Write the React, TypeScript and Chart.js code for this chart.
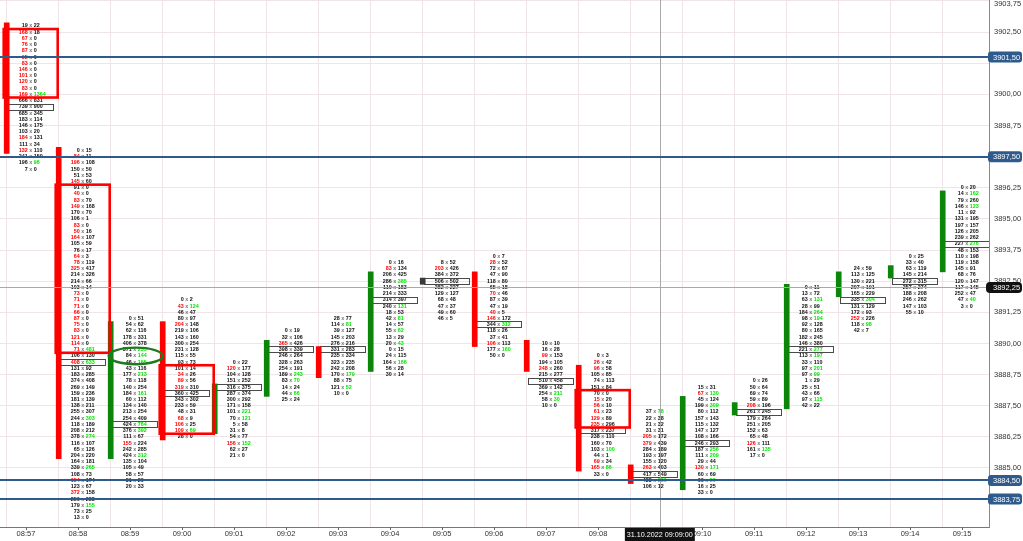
import React, { useEffect, useRef } from "react";
import { Chart, registerables } from "chart.js";

Chart.register(...registerables);

const FONT = "'Liberation Sans', Arial, sans-serif";
const TICK = 0.25;

// ---- bars (1 minute) ----
const times = ["08:57", "08:58", "08:59", "09:00", "09:01", "09:02", "09:03", "09:04", "09:05", "09:06", "09:07", "09:08", "09:09", "09:10", "09:11", "09:12", "09:13", "09:14", "09:15"];
const highs = [3902.75, 3897.75, 3891.0, 3891.75, 3889.25, 3890.5, 3891.0, 3893.25, 3893.25, 3893.5, 3890.0, 3889.5, 3887.25, 3888.25, 3888.5, 3892.25, 3893.0, 3893.5, 3896.25];
const opens = [3902.75, 3897.75, 3885.5, 3890.75, 3886.5, 3888.0, 3889.75, 3889.0, 3892.5, 3892.75, 3890.0, 3889.0, 3885.0, 3884.25, 3887.25, 3887.5, 3892.0, 3892.75, 3893.0];
const closes = [3897.75, 3885.5, 3890.75, 3886.25, 3888.25, 3890.0, 3888.75, 3892.75, 3892.5, 3890.0, 3889.0, 3885.0, 3884.5, 3887.75, 3887.5, 3892.25, 3892.75, 3893.0, 3896.0];
const pocRows = [13, 34, 17, 15, 4, 3, 5, 6, 3, 11, 6, 12, 10, 9, 5, 10, 5, 4, 9];

// ---- footprint rows, from the high downwards (bid x ask) ----
const bid0857 = [19, 168, 67, 76, 87, 95, 83, 146, 101, 120, 83, 169, 666, 739, 685, 183, 146, 103, 184, 111, 132, 241, 196, 7];
const ask0857 = [22, 18, 0, 0, 0, 0, 0, 0, 0, 0, 0, 1364, 831, 900, 345, 114, 175, 20, 131, 34, 110, 150, 96, 0];
const red0857 = [1, 2, 3, 4, 5, 6, 7, 8, 9, 10, 11, 18, 20];
const grn0857 = [11, 22];

const bid0858 = [0, 84, 196, 150, 51, 145, 91, 40, 83, 149, 170, 106, 83, 50, 164, 105, 76, 64, 78, 325, 214, 214, 103, 73, 71, 71, 66, 87, 75, 83, 121, 114, 71, 106, 408, 131, 183, 374, 269, 159, 181, 138, 255, 244, 118, 208, 378, 116, 65, 204, 164, 339, 108, 154, 123, 372, 256, 179, 73, 13];
const ask0858 = [15, 11, 108, 50, 53, 60, 0, 0, 70, 168, 70, 1, 0, 16, 107, 59, 17, 3, 119, 417, 326, 66, 14, 0, 0, 0, 0, 0, 0, 0, 0, 0, 481, 130, 633, 92, 285, 408, 149, 236, 139, 211, 307, 303, 189, 212, 274, 107, 126, 220, 181, 265, 73, 174, 67, 158, 288, 155, 25, 0];
const red0858 = [1, 2, 5, 7, 8, 9, 12, 13, 14, 17, 18, 19, 23, 24, 25, 26, 27, 28, 29, 30, 31, 32, 34, 53, 55];
const grn0858 = [32, 34, 43, 46, 51, 57];

const bid0859 = [0, 54, 62, 178, 406, 371, 84, 46, 43, 177, 78, 140, 184, 60, 134, 213, 254, 424, 376, 111, 155, 242, 424, 135, 105, 58, 31, 20];
const ask0859 = [51, 62, 116, 331, 378, 235, 144, 165, 116, 213, 118, 254, 161, 112, 140, 254, 409, 764, 392, 67, 224, 285, 312, 104, 49, 57, 20, 33];
const red0859 = [20];
const grn0859 = [5, 6, 7, 9, 12, 17, 18, 22];

const bid0900 = [0, 43, 46, 80, 204, 219, 143, 300, 231, 115, 93, 101, 34, 89, 319, 360, 343, 233, 48, 68, 106, 109, 28];
const ask0900 = [2, 124, 47, 97, 148, 106, 160, 254, 128, 55, 73, 14, 26, 56, 310, 425, 302, 59, 31, 9, 25, 69, 0];
const red0900 = [1, 4, 12, 13, 14, 19, 20, 21];
const grn0900 = [1, 21];

const bid0901 = [0, 120, 104, 151, 316, 287, 300, 171, 101, 70, 5, 31, 54, 156, 62, 21];
const ask0901 = [22, 177, 128, 252, 375, 374, 292, 158, 221, 121, 58, 8, 77, 152, 27, 0];
const red0901 = [1, 13];
const grn0901 = [8, 9, 13];

const bid0902 = [0, 32, 365, 398, 246, 328, 254, 189, 83, 14, 44, 25];
const ask0902 = [19, 106, 426, 339, 264, 263, 191, 243, 70, 24, 66, 24];
const red0902 = [2];
const grn0902 = [7, 8, 10];

const bid0903 = [28, 114, 39, 145, 276, 331, 235, 323, 242, 170, 88, 121, 10];
const ask0903 = [77, 81, 127, 203, 216, 283, 334, 235, 208, 179, 75, 52, 0];
const red0903: number[] = [];
const grn0903 = [1, 9, 11];

const bid0904 = [0, 83, 206, 286, 110, 214, 314, 240, 18, 42, 14, 55, 13, 20, 0, 24, 164, 56, 30];
const ask0904 = [16, 134, 425, 385, 183, 333, 397, 131, 53, 81, 57, 62, 29, 43, 15, 115, 166, 28, 14];
const red0904 = [1];
const grn0904 = [3, 7, 9, 11, 13, 16];

const bid0905 = [8, 203, 384, 506, 282, 129, 68, 47, 49, 46];
const ask0905 = [52, 426, 372, 502, 227, 127, 48, 37, 60, 5];
const red0905 = [1];
const grn0905: number[] = [];

const bid0906 = [0, 28, 72, 47, 118, 65, 70, 87, 47, 40, 146, 344, 118, 37, 106, 177, 50];
const ask0906 = [7, 52, 67, 90, 80, 18, 46, 39, 19, 5, 172, 312, 26, 41, 113, 160, 0];
const red0906 = [1, 6, 9, 10, 14];
const grn0906 = [11, 15];

const bid0907 = [10, 16, 99, 194, 248, 215, 510, 369, 254, 58, 10];
const ask0907 = [10, 28, 153, 105, 260, 277, 458, 142, 211, 30, 0];
const red0907 = [2, 4];
const grn0907 = [8, 9];

const bid0908 = [0, 26, 96, 105, 74, 151, 70, 15, 56, 61, 129, 235, 317, 238, 160, 103, 44, 69, 165, 33];
const ask0908 = [3, 42, 58, 85, 113, 84, 0, 20, 10, 23, 89, 296, 237, 110, 70, 100, 1, 34, 86, 0];
const red0908 = [1, 2, 7, 8, 9, 10, 11, 17, 18];
const grn0908 = [15, 18];

const bid0909 = [37, 22, 21, 31, 205, 379, 284, 193, 155, 263, 417, 433, 106];
const ask0909 = [78, 38, 32, 31, 172, 439, 189, 197, 120, 403, 549, 280, 12];
const red0909 = [4, 5, 9];
const grn0909 = [0, 11];

const bid0910 = [15, 67, 45, 199, 80, 157, 115, 147, 108, 246, 187, 111, 29, 130, 60, 66, 16, 33];
const ask0910 = [31, 130, 124, 309, 112, 143, 132, 127, 166, 293, 256, 209, 44, 171, 69, 50, 25, 0];
const red0910 = [1, 13];
const grn0910 = [1, 3, 10, 11, 13, 15];

const bid0911 = [0, 50, 69, 59, 208, 261, 179, 251, 152, 65, 126, 161, 17];
const ask0911 = [26, 64, 74, 89, 196, 245, 264, 205, 63, 48, 111, 135, 0];
const red0911 = [4, 10];
const grn0911 = [11];

const bid0912 = [0, 13, 63, 28, 184, 98, 92, 80, 182, 146, 221, 113, 33, 97, 97, 1, 25, 43, 97, 42];
const ask0912 = [11, 72, 131, 99, 264, 194, 128, 165, 245, 380, 277, 197, 110, 201, 99, 29, 51, 66, 115, 22];
const red0912: number[] = [];
const grn0912 = [2, 4, 5, 10, 11, 13, 14, 18];

const bid0913 = [24, 113, 130, 207, 165, 335, 131, 172, 252, 118, 42];
const ask0913 = [59, 125, 221, 191, 229, 304, 129, 93, 226, 98, 7];
const red0913 = [8];
const grn0913 = [5, 9];

const bid0914 = [0, 33, 63, 145, 272, 257, 188, 246, 147, 55];
const ask0914 = [25, 40, 119, 214, 315, 274, 208, 262, 103, 10];
const red0914: number[] = [];
const grn0914: number[] = [];

const bid0915 = [0, 14, 79, 146, 11, 131, 197, 126, 239, 227, 48, 110, 119, 145, 68, 120, 117, 252, 47, 3];
const ask0915 = [20, 162, 260, 123, 92, 195, 157, 205, 262, 276, 153, 198, 158, 91, 76, 147, 145, 47, 40, 0];
const red0915: number[] = [];
const grn0915 = [1, 3, 9, 18];

const bidRows = [bid0857, bid0858, bid0859, bid0900, bid0901, bid0902, bid0903, bid0904, bid0905, bid0906, bid0907, bid0908, bid0909, bid0910, bid0911, bid0912, bid0913, bid0914, bid0915];
const askRows = [ask0857, ask0858, ask0859, ask0900, ask0901, ask0902, ask0903, ask0904, ask0905, ask0906, ask0907, ask0908, ask0909, ask0910, ask0911, ask0912, ask0913, ask0914, ask0915];
const redRows = [red0857, red0858, red0859, red0900, red0901, red0902, red0903, red0904, red0905, red0906, red0907, red0908, red0909, red0910, red0911, red0912, red0913, red0914, red0915];
const grnRows = [grn0857, grn0858, grn0859, grn0900, grn0901, grn0902, grn0903, grn0904, grn0905, grn0906, grn0907, grn0908, grn0909, grn0910, grn0911, grn0912, grn0913, grn0914, grn0915];

// ---- stacked imbalance zones ----
const zoneBars = [0, 1, 3, 11];
const zoneTops = [3902.5, 3896.25, 3889.0, 3888.0];
const zoneBottoms = [3900.0, 3889.75, 3886.5, 3886.75];

// ---- marked cluster (ellipse) ----
const markBar = 2;
const markPrice = 3889.5;

// ---- horizontal levels & crosshair ----
const levelPrices = [3901.5, 3897.5, 3884.5, 3883.75];
const crossPrice = 3892.25;
const crossTime = 12.56;
const crossLabel = "31.10.2022 09:09:00";

// ---- axes ----
const X_MIN = -0.129;
const X_MAX = 18.89;
const Y_MIN = 3882.63;
const Y_MAX = 3903.79;
const Y_TOP_TICK = 3903.75;

const RED = "#ff0000";
const GREEN_TXT = "#00e600";
const GREEN_BAR = "#0b860b";
const TXT = "#111111";
const XTXT = "#7a7a7a";
const BLUE = "#2f5a8c";
const GRID = "#efe5e9";
const TEXT_DX = 24;
const FP_FONT = `bold 5.4px ${FONT}`;
const AXIS_FONT = `7.5px ${FONT}`;

const fmt = (v: number) => v.toFixed(2).replace(".", ",");

function roundRect(ctx: CanvasRenderingContext2D, x: number, y: number, w: number, h: number, r: number) {
  ctx.beginPath();
  ctx.moveTo(x + r, y);
  ctx.lineTo(x + w - r, y);
  ctx.quadraticCurveTo(x + w, y, x + w, y + r);
  ctx.lineTo(x + w, y + h - r);
  ctx.quadraticCurveTo(x + w, y + h, x + w - r, y + h);
  ctx.lineTo(x + r, y + h);
  ctx.quadraticCurveTo(x, y + h, x, y + h - r);
  ctx.lineTo(x, y + r);
  ctx.quadraticCurveTo(x, y, x + r, y);
  ctx.closePath();
}

const noPad = (s: any) => {
  s.paddingTop = 0;
  s.paddingBottom = 0;
  s.paddingLeft = 0;
  s.paddingRight = 0;
};

const footprintPlugin = {
  id: "footprint",
  beforeDatasetsDraw(chart: any) {
    const { ctx, chartArea: a } = chart;
    const xs = chart.scales.x;
    const ys = chart.scales.y;
    ctx.save();
    ctx.beginPath();
    ctx.rect(a.left, a.top, a.right - a.left, a.bottom - a.top);
    ctx.clip();
    ctx.font = FP_FONT;
    ctx.textBaseline = "middle";
    const half = ctx.measureText(" x ").width / 2;
    for (let i = 0; i < times.length; i++) {
      const cx = xs.getPixelForValue(i) + TEXT_DX;
      const bids = bidRows[i];
      const asks = askRows[i];
      for (let r = 0; r < bids.length; r++) {
        const py = ys.getPixelForValue(highs[i] - r * TICK);
        ctx.textAlign = "right";
        ctx.fillStyle = redRows[i].includes(r) ? RED : TXT;
        ctx.fillText(String(bids[r]), cx - half, py);
        ctx.textAlign = "center";
        ctx.fillStyle = XTXT;
        ctx.fillText("x", cx, py);
        ctx.textAlign = "left";
        ctx.fillStyle = grnRows[i].includes(r) ? GREEN_TXT : TXT;
        ctx.fillText(String(asks[r]), cx + half, py);
      }
      const pp = ys.getPixelForValue(highs[i] - pocRows[i] * TICK);
      ctx.strokeStyle = "#4a4a4a";
      ctx.lineWidth = 1;
      ctx.strokeRect(Math.round(cx - 22.5) + 0.5, Math.round(pp - 3.3) + 0.5, 45, 6);
    }
    ctx.restore();
  },
  afterDatasetsDraw(chart: any) {
    const { ctx, chartArea: a } = chart;
    const xs = chart.scales.x;
    const ys = chart.scales.y;
    ctx.save();
    ctx.beginPath();
    ctx.rect(a.left, a.top, a.right - a.left, a.bottom - a.top);
    ctx.clip();
    // zones
    ctx.strokeStyle = RED;
    ctx.lineWidth = 2.6;
    zoneBars.forEach((b, k) => {
      const x0 = xs.getPixelForValue(b) - 3;
      const x1 = xs.getPixelForValue(b + 1) - 1;
      const y0 = ys.getPixelForValue(zoneTops[k] + TICK / 2);
      const y1 = ys.getPixelForValue(zoneBottoms[k] - TICK / 2);
      ctx.strokeRect(x0, y0, x1 - x0, y1 - y0);
    });
    // ellipse
    ctx.strokeStyle = "#1f7a1f";
    ctx.lineWidth = 2.4;
    ctx.beginPath();
    ctx.ellipse(xs.getPixelForValue(markBar) + TEXT_DX + 1, ys.getPixelForValue(markPrice), 27, 8.3, 0, 0, Math.PI * 2);
    ctx.stroke();
    // crosshair
    ctx.strokeStyle = "#a9a9a9";
    ctx.lineWidth = 1;
    const cy = Math.round(ys.getPixelForValue(crossPrice)) + 0.5;
    ctx.beginPath();
    ctx.moveTo(a.left, cy);
    ctx.lineTo(a.right, cy);
    const cxp = Math.round(xs.getPixelForValue(crossTime)) + 0.5;
    ctx.moveTo(cxp, a.top);
    ctx.lineTo(cxp, a.bottom);
    ctx.stroke();
    // level lines
    ctx.strokeStyle = BLUE;
    ctx.lineWidth = 2;
    levelPrices.forEach((p) => {
      const py = Math.round(ys.getPixelForValue(p));
      ctx.beginPath();
      ctx.moveTo(a.left, py);
      ctx.lineTo(a.right, py);
      ctx.stroke();
    });
    ctx.restore();
  },
  afterDraw(chart: any) {
    const { ctx, chartArea: a } = chart;
    const xs = chart.scales.x;
    const ys = chart.scales.y;
    ctx.save();
    // x tick marks under the labels
    ctx.strokeStyle = "#666";
    ctx.lineWidth = 1;
    ctx.beginPath();
    times.forEach((_, i) => {
      const px = Math.round(xs.getPixelForValue(i) + 19.3) + 0.5;
      ctx.moveTo(px, a.bottom);
      ctx.lineTo(px, a.bottom + 3);
    });
    ctx.stroke();
    ctx.font = AXIS_FONT;
    ctx.textBaseline = "middle";
    ctx.textAlign = "left";
    // top price label, kept inside the canvas
    ctx.fillStyle = "#333";
    ctx.fillText(fmt(Y_TOP_TICK), a.right + 5, Math.max(ys.getPixelForValue(Y_TOP_TICK), 4));
    // level labels on the price axis
    levelPrices.forEach((p) => {
      const py = ys.getPixelForValue(p);
      ctx.fillStyle = BLUE;
      roundRect(ctx, a.right - 1, py - 5.5, 34, 11, 3);
      ctx.fill();
      ctx.fillStyle = "#ffffff";
      ctx.fillText(fmt(p), a.right + 4, py + 0.5);
    });
    // crosshair price label
    const cy = ys.getPixelForValue(crossPrice);
    ctx.fillStyle = "#111111";
    roundRect(ctx, a.right - 3, cy - 5.5, 36, 11, 4);
    ctx.fill();
    ctx.fillStyle = "#ffffff";
    ctx.fillText(fmt(crossPrice), a.right + 4, cy + 0.5);
    // crosshair time label
    ctx.font = `7.2px ${FONT}`;
    const tw = ctx.measureText(crossLabel).width + 4;
    const tx = xs.getPixelForValue(crossTime);
    ctx.fillStyle = "#111111";
    ctx.fillRect(tx - tw / 2, a.bottom + 1, tw, 13);
    ctx.fillStyle = "#ffffff";
    ctx.textAlign = "center";
    ctx.fillText(crossLabel, tx, a.bottom + 8);
    ctx.restore();
  },
};

export default function App() {
  const ref = useRef<HTMLCanvasElement>(null);
  useEffect(() => {
    const canvas = ref.current;
    if (!canvas) return;
    const candleData = times.map((_, i) => ({
      x: i,
      y: [Math.min(opens[i], closes[i]) - TICK / 2, Math.max(opens[i], closes[i]) + TICK / 2],
    }));
    const candleColors = times.map((_, i) => (closes[i] > opens[i] ? GREEN_BAR : closes[i] < opens[i] ? RED : "#3a3a3a"));
    const chart = new Chart(canvas, {
      type: "bar",
      data: {
        datasets: [
          {
            data: candleData as any,
            backgroundColor: candleColors,
            borderWidth: 0,
            barThickness: 5,
            grouped: false,
          } as any,
        ],
      },
      options: {
        animation: false,
        responsive: false,
        maintainAspectRatio: false,
        devicePixelRatio: 1,
        layout: { padding: 0 },
        plugins: { legend: { display: false }, tooltip: { enabled: false } },
        scales: {
          x: {
            type: "linear",
            position: "bottom",
            min: X_MIN,
            max: X_MAX,
            offset: false,
            afterBuildTicks: (s: any) => {
              s.ticks = times.map((_, i) => ({ value: i }));
            },
            afterFit: (s: any) => {
              s.height = 14;
              noPad(s);
            },
            ticks: {
              autoSkip: false,
              maxRotation: 0,
              minRotation: 0,
              labelOffset: 19.3,
              padding: 2,
              color: "#333",
              font: { size: 7.5, family: FONT },
              callback: (v: any) => times[v as number] ?? "",
            },
            grid: { color: GRID, drawTicks: false, offset: false },
            border: { color: "#777" },
          },
          y: {
            type: "linear",
            position: "right",
            min: Y_MIN,
            max: Y_MAX,
            afterFit: (s: any) => {
              s.width = 34;
              noPad(s);
            },
            ticks: {
              stepSize: 1.25,
              includeBounds: false,
              padding: 5,
              color: "#333",
              font: { size: 7.5, family: FONT },
              callback: (v: any) => {
                const n = Number(v);
                if (Math.abs(n - Y_TOP_TICK) < 0.01) return "";
                if (levelPrices.some((p) => Math.abs(p - n) < 0.3)) return "";
                return fmt(n);
              },
            },
            grid: { color: GRID, drawTicks: false },
            border: { color: "#888" },
          },
        },
      } as any,
      plugins: [footprintPlugin],
    });
    return () => chart.destroy();
  }, []);
  return (
    <div style={{ position: "fixed", left: 0, top: 0, width: 1023, height: 541, background: "#fff" }}>
      <canvas ref={ref} width={1023} height={541} style={{ display: "block" }} />
    </div>
  );
}
